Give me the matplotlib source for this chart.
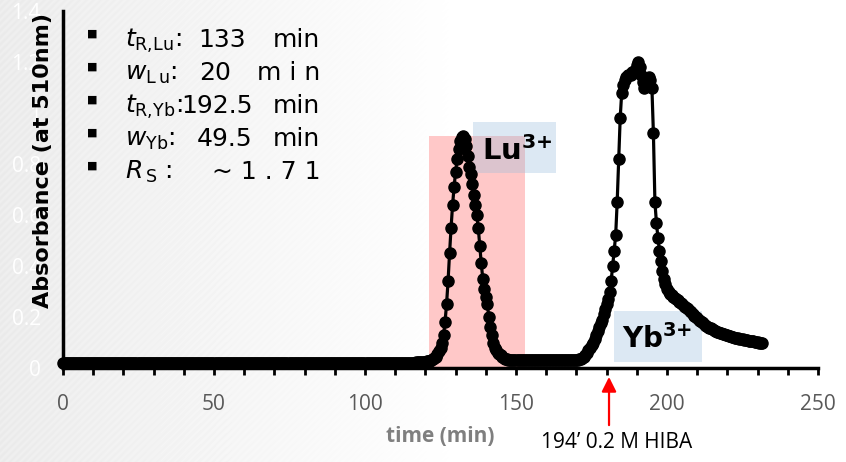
import numpy as np
import matplotlib
matplotlib.use("Agg")
import matplotlib.pyplot as plt
from matplotlib.patches import Rectangle
from matplotlib.ticker import MultipleLocator

# absorbance, one point every 0.5 min
step_min = 0.5

# 0 - 121.5 min, flat baseline before Lu
baseline_abs = [
    0.02, 0.02, 0.02, 0.02, 0.02, 0.02, 0.02, 0.02, 0.02, 0.02, 0.02, 0.02, 0.02, 0.02, 0.02, 0.02, 0.02, 0.02, 0.02, 0.02,
    0.02, 0.02, 0.02, 0.02, 0.02, 0.02, 0.02, 0.02, 0.02, 0.02, 0.02, 0.02, 0.02, 0.02, 0.02, 0.02, 0.02, 0.02, 0.02, 0.02,
    0.02, 0.02, 0.02, 0.02, 0.02, 0.02, 0.02, 0.02, 0.02, 0.02, 0.02, 0.02, 0.02, 0.02, 0.02, 0.02, 0.02, 0.02, 0.02, 0.02,
    0.02, 0.02, 0.02, 0.02, 0.02, 0.02, 0.02, 0.02, 0.02, 0.02, 0.02, 0.02, 0.02, 0.02, 0.02, 0.02, 0.02, 0.02, 0.02, 0.02,
    0.02, 0.02, 0.02, 0.02, 0.02, 0.02, 0.02, 0.02, 0.02, 0.02, 0.02, 0.02, 0.02, 0.02, 0.02, 0.02, 0.02, 0.02, 0.02, 0.02,
    0.02, 0.02, 0.02, 0.02, 0.02, 0.02, 0.02, 0.02, 0.02, 0.02, 0.02, 0.02, 0.02, 0.02, 0.02, 0.02, 0.02, 0.02, 0.02, 0.02,
    0.02, 0.02, 0.02, 0.02, 0.02, 0.02, 0.02, 0.02, 0.02, 0.02, 0.02, 0.02, 0.02, 0.02, 0.02, 0.02, 0.02, 0.02, 0.02, 0.02,
    0.02, 0.02, 0.02, 0.02, 0.02, 0.02, 0.02, 0.02, 0.02, 0.02, 0.02, 0.02, 0.02, 0.02, 0.02, 0.02, 0.02, 0.02, 0.02, 0.02,
    0.02, 0.02, 0.02, 0.02, 0.02, 0.02, 0.02, 0.02, 0.02, 0.02, 0.02, 0.02, 0.02, 0.02, 0.02, 0.02, 0.02, 0.02, 0.02, 0.02,
    0.02, 0.02, 0.02, 0.02, 0.02, 0.02, 0.02, 0.02, 0.02, 0.02, 0.02, 0.02, 0.02, 0.02, 0.02, 0.02, 0.02, 0.02, 0.02, 0.02,
    0.02, 0.02, 0.02, 0.02, 0.02, 0.02, 0.02, 0.02, 0.02, 0.02, 0.02, 0.02, 0.02, 0.02, 0.02, 0.02, 0.02, 0.02, 0.02, 0.02,
    0.02, 0.02, 0.02, 0.02, 0.02, 0.02, 0.02, 0.02, 0.02, 0.02, 0.021, 0.021, 0.021, 0.021, 0.022, 0.022, 0.022, 0.023, 0.023, 0.024,
    0.025, 0.026, 0.027, 0.028,
]

# 122 - 147 min, Lu3+ peak
lu_abs = [
    0.03, 0.035, 0.04, 0.045, 0.055, 0.065, 0.08, 0.10, 0.13, 0.18,
    0.25, 0.34, 0.45, 0.55, 0.64, 0.71, 0.77, 0.82, 0.86, 0.89,
    0.905, 0.91, 0.90, 0.87, 0.83, 0.79, 0.76, 0.72, 0.68, 0.64,
    0.60, 0.55, 0.48, 0.41, 0.35, 0.31, 0.28, 0.25, 0.20, 0.16,
    0.13, 0.10, 0.08, 0.07, 0.06, 0.055, 0.05, 0.045, 0.04, 0.037,
    0.035,
]

# 147.5 - 171.5 min, baseline between the peaks
gap_abs = [
    0.033, 0.032, 0.031, 0.03, 0.03, 0.03, 0.03, 0.03, 0.03, 0.03,
    0.03, 0.03, 0.03, 0.03, 0.03, 0.03, 0.03, 0.03, 0.03, 0.03,
    0.03, 0.03, 0.03, 0.03, 0.03, 0.03, 0.03, 0.03, 0.03, 0.03,
    0.03, 0.03, 0.03, 0.03, 0.03, 0.03, 0.03, 0.03, 0.03, 0.03,
    0.03, 0.03, 0.03, 0.031, 0.031, 0.032, 0.033, 0.034, 0.036,
]

# 172 - 231.5 min, Yb3+ peak and tail
yb_abs = [
    0.04, 0.045, 0.05, 0.06, 0.07, 0.08, 0.09, 0.10, 0.115, 0.13,
    0.145, 0.16, 0.175, 0.19, 0.21, 0.23, 0.25, 0.27, 0.30, 0.34,
    0.40, 0.46, 0.52, 0.65, 0.82, 0.98, 1.08, 1.11, 1.13, 1.14,
    1.15, 1.15, 1.15, 1.16, 1.16, 1.17, 1.19, 1.20, 1.18, 1.15,
    1.12, 1.10, 1.11, 1.13, 1.14, 1.13, 1.10, 0.92, 0.65, 0.57,
    0.51, 0.46, 0.42, 0.38, 0.35, 0.33, 0.31, 0.30, 0.29, 0.285,
    0.28, 0.275, 0.27, 0.265, 0.26, 0.255, 0.25, 0.245, 0.24, 0.235,
    0.23, 0.225, 0.22, 0.21, 0.205, 0.20, 0.195, 0.19, 0.185, 0.18,
    0.175, 0.17, 0.166, 0.162, 0.158, 0.155, 0.152, 0.149, 0.146, 0.143,
    0.14, 0.138, 0.136, 0.134, 0.132, 0.13, 0.128, 0.126, 0.124, 0.122,
    0.12, 0.118, 0.117, 0.116, 0.115, 0.113, 0.112, 0.111, 0.11, 0.108,
    0.107, 0.106, 0.105, 0.104, 0.103, 0.102, 0.101, 0.10, 0.099, 0.098,
]

absorbance = np.array(baseline_abs + lu_abs + gap_abs + yb_abs)
time_min = np.arange(len(absorbance)) * step_min

lu_window = (121.2, 153.0)      # shaded collection window
lu_window_top = 0.91
hiba_time = 180.8               # arrow for eluent switch

x_ticks = [0, 50, 100, 150, 200, 250]
y_ticks = [0, 0.2, 0.4, 0.6, 0.8, 1.0, 1.2, 1.4]

# label, number, unit, right edge of the number (px)
info_lines = [
    (r"$t_{\mathrm{R{,}Lu}}$:", "133", "min", 246),
    (r"$w_{\mathrm{L\,u}}$:", "20", "m i n", 231),
    (r"$t_{\mathrm{R{,}Yb}}$:", "192.5", "min", 253),
    (r"$w_{\mathrm{Yb}}$:", "49.5", "min", 252),
    (r"$R_{\mathrm{\,S}}$ :", "", "~ 1 . 7 1", 0),
]

W, H = 846, 462
fig = plt.figure(figsize=(W / 100, H / 100), dpi=100)


def fx(px):
    return px / W


def fy(py):
    return 1 - py / H


# slide background: grey striped on the left, fading to white
yy, xx = np.mgrid[0:H, 0:W]
fade = np.clip(1 - xx / 470.0, 0, 1)
stripes = 0.5 + 0.5 * np.sin(2 * np.pi * (xx + yy) / 7.0)
bg = 1 - fade * (0.065 + 0.02 * stripes)
fig.figimage(bg, xo=0, yo=0, origin="upper", cmap="gray", vmin=0, vmax=1, zorder=-10)

ax = fig.add_axes([fx(63), fy(368), fx(818) - fx(63), fy(11) - fy(368)])
ax.set_facecolor("none")

box_blue = (155 / 255, 190 / 255, 220 / 255)
ax.add_patch(Rectangle((lu_window[0], 0), lu_window[1] - lu_window[0], lu_window_top,
                       facecolor="#FFC8C8", edgecolor="none", zorder=1))
ax.add_patch(Rectangle((135.8, 0.763), 27.4, 0.2, facecolor=box_blue,
                       alpha=0.34, edgecolor="none", zorder=2))
ax.add_patch(Rectangle((182.5, 0.023), 29.1, 0.2, facecolor=box_blue,
                       alpha=0.34, edgecolor="none", zorder=2))

ax.plot(time_min, absorbance, color="black", lw=2.3, marker="o", markersize=8,
        zorder=3, clip_on=False)

ax.text(138.7, 0.817, r"Lu$^{\mathbf{3{+}}}$", fontsize=21, fontweight="bold",
        family="DejaVu Sans", zorder=4)
ax.text(185.1, 0.078, r"Yb$^{\mathbf{3{+}}}$", fontsize=20, fontweight="bold",
        family="DejaVu Sans", zorder=4)

ax.set_xlim(0, 250)
ax.set_ylim(0, 1.4)
ax.set_xticks(x_ticks)
ax.xaxis.set_minor_locator(MultipleLocator(10))
ax.set_yticks(y_ticks)
ax.set_yticklabels(["0", "0.2", "0.4", "0.6", "0.8", "1", "1.2", "1.4"])
for s in ["top", "right"]:
    ax.spines[s].set_visible(False)
ax.spines["left"].set_linewidth(2.5)
ax.spines["bottom"].set_linewidth(2.5)
ax.tick_params(axis="x", which="both", direction="out", length=5, width=2,
               labelsize=15, labelcolor="#595959", pad=14)
ax.tick_params(axis="y", length=0, labelsize=15, labelcolor="white", pad=16)
for lab in ax.get_xticklabels() + ax.get_yticklabels():
    lab.set_family("Open Sans")

ax.set_xlabel("time (min)", fontsize=15, fontweight="bold", color="#7f7f7f",
              family="Open Sans", labelpad=8)
fig.text(fx(43), fy(161), "Absorbance (at 510nm)", rotation=90, ha="center", va="center",
         fontsize=16, fontweight="bold", family="DejaVu Sans")

# eluent switch arrow
ax.annotate("", xy=(hiba_time, -0.025), xycoords=("data", "axes fraction"),
            xytext=(hiba_time, -0.16), textcoords=("data", "axes fraction"),
            arrowprops=dict(arrowstyle="-|>", mutation_scale=22, color="red", lw=1.6,
                            shrinkA=0, shrinkB=0), annotation_clip=False)
fig.text(fx(617), fy(443), "194\u2019 0.2 M HIBA", ha="center", va="center",
         fontsize=15, family="Open Sans", color="black")

# bullet list
baselines = [47, 80, 113, 146, 179]
for (label, num, unit, num_right), b in zip(info_lines, baselines):
    fig.text(fx(92), fy(b - 13), "\u25a0", fontsize=8, ha="center", va="center")
    fig.text(fx(125), fy(b), label, fontsize=18, va="baseline", ha="left")
    if num:
        fig.text(fx(num_right), fy(b), num, fontsize=18, va="baseline", ha="right")
    fig.text(fx(320), fy(b), unit, fontsize=18, va="baseline", ha="right")

fig.savefig("out.png", dpi=100)
